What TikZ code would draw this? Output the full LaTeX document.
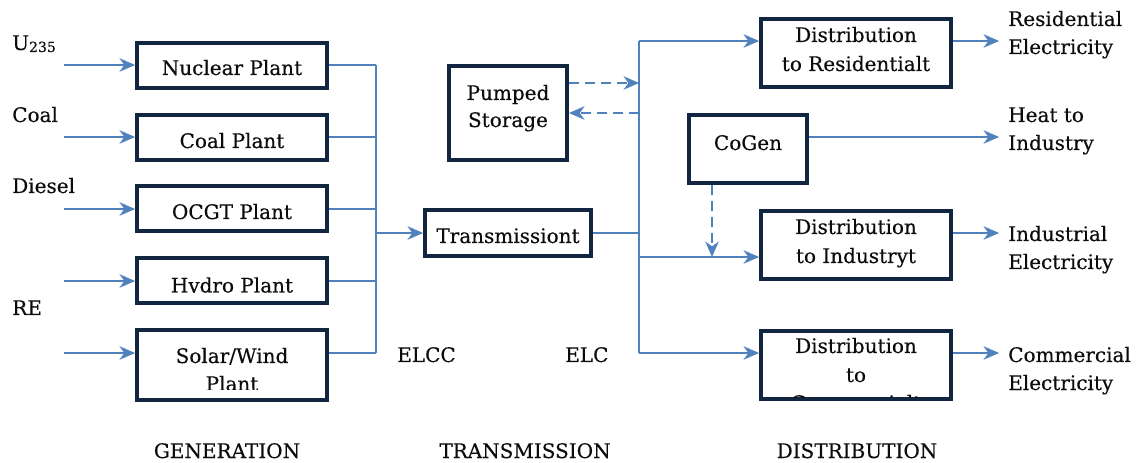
\documentclass[tikz,border=0pt]{standalone}
\usepackage{fontspec}
\setmainfont{DejaVu Serif}[FakeBold=0.3]
\usetikzlibrary{arrows.meta,calc}
\definecolor{boxline}{RGB}{18,38,66}
\definecolor{flowblue}{RGB}{79,129,189}
\definecolor{ink}{RGB}{12,12,12}

\begin{document}
\begin{tikzpicture}[x=0.75pt,y=-0.75pt,
  unit/.style={draw=boxline, line width=3pt, inner sep=0pt, fill=white},
  genbox/.style={unit, minimum width=142.5pt, minimum height=33.75pt},
  distbox/.style={unit, minimum width=142.5pt, minimum height=51pt},
  txt/.style={font=\fontsize{15}{18}\selectfont, text=ink, inner sep=0pt, anchor=base},
  lbl/.style={txt, anchor=base west},
  flow/.style={draw=flowblue, line width=1.9pt},
  arr/.style={flow, -{Stealth[length=11.5pt,width=10pt,inset=3.5pt]}},
  dashflow/.style={arr, dash pattern=on 7.5pt off 4.5pt},
]
\useasboundingbox (0,0) rectangle (1139,463);

% anchor points of the flow lines
\coordinate (inU) at (64,65);
\coordinate (inC) at (64,137);
\coordinate (inD) at (64,209);
\coordinate (inH) at (64,281);
\coordinate (inS) at (64,353);
\coordinate (gbus) at (376,233);
\coordinate (dbus) at (639,233);
\coordinate (yR) at (639,41);
\coordinate (yI) at (639,257);
\coordinate (yC) at (639,353);
\coordinate (pOut) at (639,83);
\coordinate (pIn) at (639,113);
\coordinate (oR) at (999,41);
\coordinate (oH) at (999,137);
\coordinate (oI) at (999,233);
\coordinate (oC) at (999,353);
\coordinate (cg) at (712,257);

% boxes
\node[genbox] (nuc) at (232,65.5) {};
\node[genbox] (coal) at (232,137.5) {};
\node[genbox] (ocgt) at (232,208.5) {};
\node[genbox] (hydro) at (232,280.5) {};
\node[genbox, minimum height=52.5pt] (solar) at (232,365) {};
\node[unit, minimum width=124.5pt, minimum height=34.5pt] (trans) at (508,233) {};
\node[unit, minimum width=88.5pt, minimum height=70.5pt] (pump) at (508,113) {};
\node[distbox] (dres) at (856,53) {};
\node[unit, minimum width=88.5pt, minimum height=51pt] (cogen) at (748,149) {};
\node[distbox] (dind) at (856,245) {};
\node[distbox] (dcom) at (856,365) {};

% box texts
\node[txt] (tnuc) at (232,75) {Nuclear Plant};
\node[txt] (tcoal) at (232,148) {Coal Plant};
\node[txt] (tocgt) at (232,219) {OCGT Plant};
\begin{scope}
  \clip (140,260) rectangle (324,292.5);
  \node[txt] (thydro) at (232,292.5) {Hydro Plant};
\end{scope}
\begin{scope}
  \clip (140,332) rectangle (324,389);
  \node[txt] (tsolarA) at (232,363) {Solar/Wind};
  \node[txt] (tsolarB) at (232,391) {Plant};
\end{scope}
\node[txt] (ttrans) at (508,243) {Transmissiont};
\node[txt] (tpumpA) at (508,100) {Pumped};
\node[txt] (tpumpB) at (508,127) {Storage};
\node[txt] (tdresA) at (856,42) {Distribution};
\node[txt] (tdresB) at (856,71) {to Residentialt};
\node[txt] (tcogen) at (748,150) {CoGen};
\node[txt] (tdindA) at (856,234) {Distribution};
\node[txt] (tdindB) at (856,263) {to Industryt};
\node[txt] (tdcomA) at (856,353) {Distribution};
\node[txt] (tdcomB) at (856,382) {to};
\begin{scope}
  \clip (764,333) rectangle (948,397.5);
  \node[txt] (tdcomC) at (856,410) {Commercialt};
\end{scope}

% inputs
\node[lbl] (lU) at (12,50) {U\raisebox{-1.5pt}{\fontsize{10.5}{12}\selectfont 235}};
\node[lbl] (lC) at (12,122) {Coal};
\node[lbl] (lD) at (12,193) {Diesel};
\node[lbl] (lRE) at (12,315) {RE};

% outputs
\node[lbl] (oRa) at (1008,26) {Residential};
\node[lbl] (oRb) at (1008,54) {Electricity};
\node[lbl] (oHa) at (1008,122) {Heat to};
\node[lbl] (oHb) at (1008,150) {Industry};
\node[lbl] (oIa) at (1008,241) {Industrial};
\node[lbl] (oIb) at (1008,269) {Electricity};
\node[lbl] (oCa) at (1008,362) {Commercial};
\node[lbl] (oCb) at (1008,390) {Electricity};

% commodity and stage labels
\node[lbl] (elcc) at (397,362) {ELCC};
\node[lbl] (elc) at (565,362) {ELC};
\node[txt] (sGen) at (227,458) {GENERATION};
\node[txt] (sTra) at (525,458) {TRANSMISSION};
\node[txt] (sDis) at (857,458) {DISTRIBUTION};

% generation
\draw[arr] (inU) -- (inU -| nuc.west);
\draw[arr] (inC) -- (inC -| coal.west);
\draw[arr] (inD) -- (inD -| ocgt.west);
\draw[arr] (inH) -- (inH -| hydro.west);
\draw[arr] (inS) -- (inS -| solar.west);
\draw[flow] (inU -| nuc.east) -- (inU -| gbus);
\draw[flow] (inC -| coal.east) -- (inC -| gbus);
\draw[flow] (inD -| ocgt.east) -- (inD -| gbus);
\draw[flow] (inH -| hydro.east) -- (inH -| gbus);
\draw[flow] (inS -| solar.east) -- (inS -| gbus);
\draw[flow] (inU -| gbus) -- (inS -| gbus);

% transmission
\draw[arr] (gbus) -- (trans.west);
\draw[flow] (trans.east) -- (dbus);
\draw[dashflow] (pOut -| pump.east) -- (pOut);
\draw[dashflow] (pIn) -- (pIn -| pump.east);

% distribution
\draw[flow] (yR) -- (yC);
\draw[arr] (yR) -- (yR -| dres.west);
\draw[arr] (yI) -- (yI -| dind.west);
\draw[arr] (yC) -- (yC -| dcom.west);
\draw[dashflow] (cg |- cogen.south) -- (cg);
\draw[arr] (oR -| dres.east) -- (oR);
\draw[arr] (oH -| cogen.east) -- (oH);
\draw[arr] (oI -| dind.east) -- (oI);
\draw[arr] (oC -| dcom.east) -- (oC);
\end{tikzpicture}
\end{document}
